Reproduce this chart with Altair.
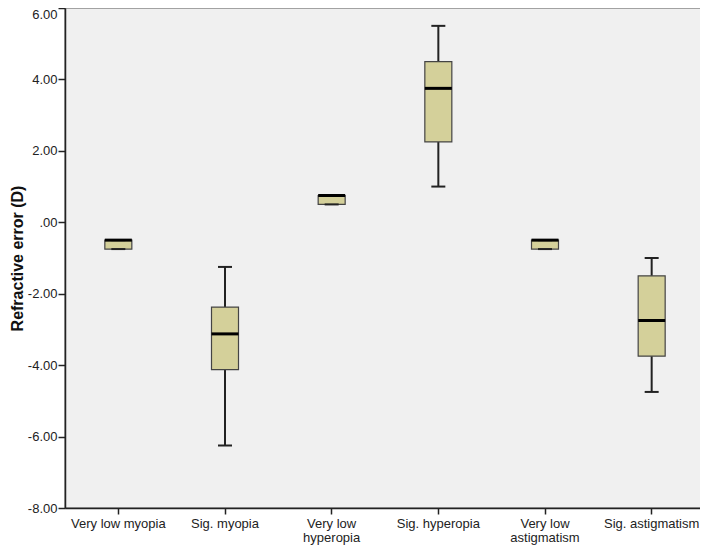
import altair as alt
import pandas as pd

categories = ["Very low myopia", "Sig. myopia", "Very low hyperopia",
              "Sig. hyperopia", "Very low astigmatism", "Sig. astigmatism"]
mins    = [-0.75, -6.25, 0.50, 1.00, -0.75, -4.75]
q1s     = [-0.75, -4.125, 0.50, 2.25, -0.75, -3.75]
medians = [-0.50, -3.125, 0.75, 3.75, -0.50, -2.75]
q3s     = [-0.50, -2.375, 0.75, 4.50, -0.50, -1.50]
maxs    = [-0.50, -1.25, 0.75, 5.50, -0.50, -1.00]

df = pd.DataFrame({"cat": categories, "min": mins, "q1": q1s, "med": medians,
                   "q3": q3s, "max": maxs})

FONT = "Liberation Sans"
xscale = alt.Scale(type="band", domain=categories, paddingInner=0, paddingOuter=0)
yscale = alt.Scale(domain=[-8, 6], nice=False, zero=False)

x_enc = alt.X("cat:N", scale=xscale, sort=categories, title=None,
              axis=alt.Axis(labelAngle=0, labelFont=FONT, labelFontSize=13,
                            labelColor="#222", tickColor="#222", tickSize=6,
                            tickWidth=1.5, domainColor="#222", domainWidth=1.5,
                            labelPadding=3, labelLineHeight=14,
                            labelExpr="datum.label == 'Very low hyperopia' ? ['Very low', 'hyperopia'] : datum.label == 'Very low astigmatism' ? ['Very low', 'astigmatism'] : datum.label"))

y_axis = alt.Axis(values=[-8, -6, -4, -2, 0, 2, 4, 6], grid=False,
                  labelExpr="datum.value == 0 ? '.00' : (datum.value < 0 ? '-' + format(-datum.value, '.2f') : format(datum.value, '.2f'))",
                  labelFont=FONT, labelFontSize=13, labelColor="#222",
                  labelBaseline={"condition": {"test": "datum.value == 6", "value": "top"}, "value": "middle"},
                  tickColor="#222", tickSize=7, tickWidth=1.5,
                  domainColor="#222", domainWidth=1.5, labelPadding=1,
                  title="Refractive error (D)", titleFont=FONT, titleFontSize=16,
                  titleFontWeight="bold", titleColor="#111",
                  titleX=-48, titleY=250, titleAngle=-90, titleAlign="center",
                  titleBaseline="middle")

base = alt.Chart(df)

whisker = base.mark_rule(color="#222", strokeWidth=2, opacity=1).encode(
    x=x_enc,
    y=alt.Y("min:Q", scale=yscale, axis=y_axis),
    y2="max:Q",
)
box = base.mark_bar(size=27, fill="#d4d09a", stroke="#444", strokeWidth=1.2,
                    opacity=1).encode(
    x=x_enc,
    y=alt.Y("q1:Q", scale=yscale),
    y2="q3:Q",
)
cap_lo = base.mark_tick(size=14, thickness=2, color="#222", opacity=1).encode(
    x=x_enc, y=alt.Y("min:Q", scale=yscale))
cap_hi = base.mark_tick(size=14, thickness=2, color="#222", opacity=1).encode(
    x=x_enc, y=alt.Y("max:Q", scale=yscale))
median = base.mark_tick(size=27, thickness=3, color="#000", opacity=1).encode(
    x=x_enc, y=alt.Y("med:Q", scale=yscale))

chart = alt.layer(whisker, box, cap_lo, cap_hi, median).properties(
    width=640, height=500,
    autosize=alt.AutoSizeParams(type="none"),
    padding={"left": 57, "top": 0, "right": -5, "bottom": 37},
    view=alt.ViewBackground(fill="#f0f0f0", stroke="#888", strokeWidth=1.5),
).configure(background="white")

chart.save("out.html", embed_options={"renderer": "svg", "actions": False})
